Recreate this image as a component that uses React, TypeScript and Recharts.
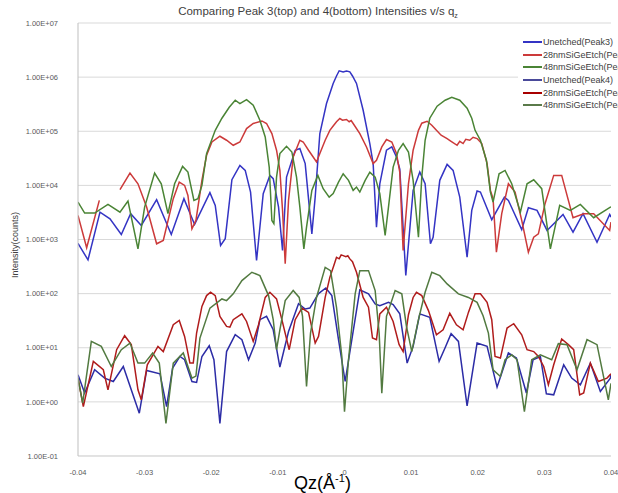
import React from 'react';
import { LineChart, Line, XAxis, YAxis, CartesianGrid } from 'recharts';

type Pt = [number, number | null];

const xTicks = [-0.04, -0.03, -0.02, -0.01, 0, 0.01, 0.02, 0.03, 0.04];
const xTickLabels = ['-0.04', '-0.03', '-0.02', '-0.01', '0', '0.01', '0.02', '0.03', '0.04'];
const yTicks = [0.1, 1, 10, 100, 1000, 10000, 100000, 1000000, 10000000];
const yTickLabels = ['1.00E-01', '1.00E+00', '1.00E+01', '1.00E+02', '1.00E+03', '1.00E+04', '1.00E+05', '1.00E+06', '1.00E+07'];
const seriesNames = [
  'Unetched(Peak3)',
  '28nmSiGeEtch(Peak3)',
  '48nmSiGeEtch(Peak3)',
  'Unetched(Peak4)',
  '28nmSiGeEtch(Peak4)',
  '48nmSiGeEtch(Peak4)',
];

const p3Unetched: Pt[] = [
  [-0.04, 850], [-0.0385, 420], [-0.0367, 3200], [-0.0352, 2400], [-0.0335, 1240], [-0.0321, 3000],
  [-0.0305, 1820], [-0.0282, 5450], [-0.026, 1240], [-0.0241, 5680], [-0.0225, 1900], [-0.0202, 7330],
  [-0.0194, 4270], [-0.0186, 775], [-0.0179, 1035], [-0.0169, 12700], [-0.0157, 23400], [-0.0149, 18900],
  [-0.0141, 7520], [-0.0132, 409], [-0.0122, 7030], [-0.0112, 15300], [-0.0107, 13300], [-0.0099, 3970],
  [-0.0093, 626], [-0.0087, 14200], [-0.0074, 44400], [-0.0067, 47900], [-0.0059, 25300], [-0.0049, 1270],
  [-0.0044, 6080], [-0.0037, 90700], [-0.0027, 325000], [-0.0017, 765000], [-0.0012, 1050000],
  [-0.0008, 1310000], [-0.0002, 1250000], [0.0003, 1290000], [0.0008, 1250000], [0.0012, 1050000],
  [0.0018, 765000], [0.0028, 244000], [0.0038, 59300], [0.0043, 25300], [0.0048, 1690], [0.0053, 10700],
  [0.0063, 44600], [0.0071, 51300], [0.0078, 33500], [0.0083, 20000], [0.0092, 216], [0.0103, 8090],
  [0.0113, 17600], [0.0121, 10700], [0.0129, 833], [0.0133, 1100], [0.0143, 12400], [0.0154, 24400],
  [0.0163, 18900], [0.0173, 6080], [0.0184, 471], [0.0191, 3450], [0.0199, 7850], [0.0204, 7520],
  [0.0221, 2320], [0.024, 6080], [0.0246, 5280], [0.0266, 1520], [0.0276, 3870], [0.0289, 3450],
  [0.0304, 1470], [0.0328, 2910], [0.0343, 1370], [0.0358, 3000], [0.0379, 890], [0.0398, 2910], [0.04, 2600],
];

const p3Etch28: Pt[] = [
  [-0.04, 2790], [-0.0387, 703], [-0.0368, 5280], [-0.0355, null], [-0.0337, 8330], [-0.0322, 16900],
  [-0.031, 10700], [-0.0297, 3970], [-0.0282, 833], [-0.0272, 960], [-0.0257, 5680], [-0.0248, 11500],
  [-0.024, 10000], [-0.0235, 6530], [-0.0229, 1580], [-0.0223, 2250], [-0.0214, 12400], [-0.0207, 36000],
  [-0.0199, 63400], [-0.0187, 80800], [-0.0177, 68200], [-0.0167, 55100], [-0.0157, 63400], [-0.0147, 112000],
  [-0.0137, 139000], [-0.0124, 155000], [-0.0117, 139000], [-0.0109, 90700], [-0.0102, 44600], [-0.0097, 18900],
  [-0.0093, 3450], [-0.0089, 356], [-0.0084, 5280], [-0.0077, 33500], [-0.0067, 68200], [-0.0062, 63400],
  [-0.0054, 44600], [-0.0047, 33500], [-0.0042, 27100], [-0.0037, 38700], [-0.0029, 68200], [-0.0022, 104000],
  [-0.0017, 125000], [-0.0012, 150000], [-0.0007, 172000], [-0.0003, 160000], [0.0003, 165000], [0.0007, 150000],
  [0.001, 158000], [0.0013, 139000], [0.0023, 90700], [0.0033, 51300], [0.0043, 25300], [0.0048, 29100],
  [0.0056, 51300], [0.0063, 70200], [0.0071, 63400], [0.0078, 38700], [0.0083, 17400], [0.0088, 626],
  [0.0096, 10700], [0.0103, 44600], [0.0111, 104000], [0.0116, 141000], [0.0124, 153000], [0.0131, 129000],
  [0.0138, 104000], [0.0145, 84400], [0.0154, 73300], [0.016, 65300], [0.0169, 55100], [0.0173, 65300],
  [0.0178, 59300], [0.0182, 71100], [0.0188, 68200], [0.0193, 77500], [0.0199, 73300], [0.0206, 59300],
  [0.0214, 25300], [0.0219, 8090], [0.0223, 5680], [0.0228, 582], [0.0236, 3000], [0.0246, 10700],
  [0.0256, 7520], [0.0266, 2250], [0.0276, 582], [0.0284, 1100], [0.0291, 1270], [0.0301, 4590],
  [0.0314, 15300], [0.0326, 15300], [0.0343, 2530], [0.0359, 3000], [0.0374, 3000], [0.0398, 1470], [0.04, 2100],
];

const p3Etch48: Pt[] = [
  [-0.04, 4910], [-0.039, 3080], [-0.0375, 3080], [-0.0355, 4460], [-0.0337, 3200], [-0.0325, 5130],
  [-0.031, 673], [-0.03, 3970], [-0.0285, 16900], [-0.0275, 10700], [-0.0265, 3000], [-0.0255, 10700],
  [-0.0243, 22400], [-0.0235, 17600], [-0.0226, 5280], [-0.022, 5680], [-0.0214, 10000], [-0.0207, 38700],
  [-0.0194, 104000], [-0.0184, 174000], [-0.0173, 278000], [-0.0164, 374000], [-0.0157, 325000],
  [-0.0147, 385000], [-0.0137, 303000], [-0.0127, 160000], [-0.0119, 78500], [-0.0113, 21800], [-0.0109, 2250],
  [-0.0106, 1960], [-0.0102, 14200], [-0.0097, 38700], [-0.0087, 52800], [-0.0079, 41400], [-0.0072, 14200],
  [-0.0067, 3970], [-0.0061, 673], [-0.0057, 1690], [-0.0049, 8090], [-0.004, 15300], [-0.0032, 8690],
  [-0.0023, 6080], [-0.0017, 7030], [-0.0009, 11500], [-0.0002, 16400], [0.0006, 12400], [0.0013, 8090],
  [0.0018, 9300], [0.0023, 7520], [0.0031, 12400], [0.0038, 17600], [0.0046, 14200], [0.0053, 7030],
  [0.0061, 1190], [0.0066, 3970], [0.0073, 21800], [0.0081, 44600], [0.0088, 59300], [0.0096, 41400],
  [0.0103, 12400], [0.0111, 1100], [0.0116, 14200], [0.0121, 68200], [0.0128, 174000], [0.0139, 290000],
  [0.0151, 374000], [0.0161, 425000], [0.0173, 374000], [0.0184, 266000], [0.0191, 174000], [0.0196, 104000],
  [0.0204, 68200], [0.0213, 29100], [0.0219, 7520], [0.0223, 4910], [0.0232, 16400], [0.0241, 18900],
  [0.0251, 10700], [0.0264, 3200], [0.0274, 10700], [0.0284, 12700], [0.0296, 8690], [0.0309, 673],
  [0.0323, 4270], [0.0339, 3450], [0.0354, 4460], [0.0374, 2530], [0.0399, 3970], [0.04, 4000],
];

const p4Unetched: Pt[] = [
  [-0.04, 3.17], [-0.039, 1.46], [-0.0375, 3.92], [-0.036, 2.75], [-0.0347, 2.38], [-0.0332, 4.51],
  [-0.0308, 0.618], [-0.0297, 3.8], [-0.0277, 3.3], [-0.0267, 0.82], [-0.0258, 4.22], [-0.0247, 6.9],
  [-0.024, 6.0], [-0.0229, 2.38], [-0.0222, 2.29], [-0.0214, 6.9], [-0.0203, 10.9], [-0.0196, 6.0],
  [-0.0187, 0.4], [-0.0177, 8.5], [-0.0164, 17.4], [-0.0154, 14.1], [-0.0144, 6.0], [-0.0134, 12.2],
  [-0.0127, 33], [-0.0117, 38], [-0.0107, 21.5], [-0.0097, 4.4], [-0.0084, 20], [-0.0069, 65], [-0.0059, 52],
  [-0.0052, 54], [-0.0039, 100], [-0.0028, 127], [-0.0019, 92], [-0.0009, 14.1], [0.0001, 2.38], [0.0011, 14.1],
  [0.0023, 117], [0.0036, 99], [0.0046, 64.5], [0.0053, 60], [0.0066, 69], [0.0073, 62.7], [0.0083, 42.2],
  [0.0094, 5.2], [0.0103, 10.6], [0.0113, 42.2], [0.0128, 36.5], [0.0142, 5.6], [0.0151, 10], [0.016, 18.2],
  [0.0171, 13.1], [0.0184, 0.84], [0.0199, 12.2], [0.0214, 10.6], [0.0229, 1.87], [0.0246, 8.0], [0.0258, 6.45],
  [0.0273, 1.46], [0.0283, 6.0], [0.0294, 6.9], [0.0303, 1.41], [0.0314, 1.35], [0.0329, 4.85], [0.0341, 2.75],
  [0.0354, 2.07], [0.0369, 5.2], [0.0384, 1.56], [0.0399, 2.75], [0.04, 3.17],
];

const p4Etch28: Pt[] = [
  [-0.04, 2.75], [-0.0392, 0.82], [-0.0377, 5.6], [-0.0362, 3.92], [-0.0355, 1.67], [-0.0342, 9.2],
  [-0.033, 16.7], [-0.032, 11.4], [-0.031, 1.67], [-0.0305, 1.09], [-0.0296, 4.85], [-0.028, 10.6],
  [-0.0272, 8.5], [-0.0257, 26.6], [-0.0248, 32], [-0.024, 16.2], [-0.0232, 5.2], [-0.0227, 5.2],
  [-0.0222, 18.7], [-0.0214, 58], [-0.0207, 92], [-0.0201, 106], [-0.0194, 92], [-0.0187, 38], [-0.0177, 24.8],
  [-0.0172, 24], [-0.0167, 33], [-0.0154, 42.2], [-0.0147, 30.6], [-0.0137, 13.1], [-0.0129, 26.6],
  [-0.0119, 85], [-0.0112, 106], [-0.0102, 79.8], [-0.0094, 33], [-0.0083, 9.2], [-0.0074, 33], [-0.0064, 54],
  [-0.0054, 45], [-0.0044, 12.2], [-0.0039, 16.2], [-0.0029, 85], [-0.0022, 200], [-0.0016, 330],
  [-0.0012, 469], [-0.0008, 440], [-0.0005, 520], [-0.0002, 504], [0.0002, 480], [0.0005, 500], [0.0008, 438],
  [0.0012, 390], [0.0018, 248], [0.0028, 85], [0.0036, 56], [0.0042, 15.1], [0.0048, 14.1], [0.0053, 42.2],
  [0.0063, 56], [0.0073, 30.6], [0.0082, 11.4], [0.0088, 8.5], [0.0096, 40.7], [0.0103, 85], [0.0108, 106],
  [0.0116, 92], [0.0126, 48.5], [0.0138, 17.4], [0.0148, 21.5], [0.0158, 43.3], [0.0168, 26.6], [0.0178, 21.5],
  [0.0186, 45], [0.0196, 99], [0.0204, 99], [0.0214, 69], [0.0221, 33], [0.0226, 6.9], [0.0234, 6.45],
  [0.0244, 23.1], [0.0254, 27.8], [0.0266, 17.4], [0.0274, 9.2], [0.0284, 8.5], [0.0291, 6.9], [0.0299, 4.5],
  [0.0306, 2.07], [0.0314, 4.85], [0.0326, 14.5], [0.0336, 11.4], [0.0344, 9.2], [0.0353, 1.35], [0.0359, 1.46],
  [0.0369, 5.2], [0.0381, 2.38], [0.0394, 2.75], [0.04, 3.3],
];

const p4Etch48: Pt[] = [
  [-0.04, 2.75], [-0.0393, 0.95], [-0.038, 13.1], [-0.0365, 10.6], [-0.035, 4.51], [-0.0335, 9.2],
  [-0.0322, 12.2], [-0.031, 5.2], [-0.03, 5.2], [-0.0288, 8.0], [-0.0278, 5.2], [-0.0268, 0.4], [-0.0257, 5.2],
  [-0.0242, 8.0], [-0.0229, 2.75], [-0.0223, 3.0], [-0.0217, 15.1], [-0.0202, 54], [-0.0184, 79.8],
  [-0.0177, 74.2], [-0.0167, 99], [-0.0154, 174], [-0.0139, 248], [-0.0127, 215], [-0.0114, 92], [-0.0107, 33],
  [-0.0102, 9.2], [-0.0097, 21.5], [-0.0089, 74.2], [-0.0077, 114], [-0.0068, 85], [-0.0063, 38],
  [-0.0057, 1.92], [-0.0051, 18.7], [-0.0042, 85], [-0.0029, 306], [-0.0021, 266], [-0.0012, 56],
  [-0.0004, 6.9], [0.0, 0.66], [0.0006, 6.0], [0.0016, 99], [0.0023, 266], [0.0036, 266], [0.0046, 114],
  [0.0052, 18.7], [0.0056, 1.45], [0.0063, 38], [0.0076, 114], [0.0086, 99], [0.0093, 24.8], [0.0101, 8.5],
  [0.0111, 33], [0.0121, 106], [0.0131, 248], [0.0143, 215], [0.0154, 151], [0.0171, 99], [0.0186, 85],
  [0.0199, 69], [0.0208, 39], [0.0216, 18.7], [0.0223, 3.92], [0.0234, 2.95], [0.0241, 6.0], [0.0251, 7.4],
  [0.0259, 6.0], [0.027, 0.66], [0.0281, 6.0], [0.0294, 7.4], [0.0311, 6.0], [0.0321, 11.9], [0.0334, 11.4],
  [0.0349, 3.92], [0.0364, 14.1], [0.0379, 11.4], [0.0396, 1.09], [0.04, 2.2],
];

const toRows = (pts: Pt[]) => pts.map(([x, y]) => ({ x, y }));

const seriesColors = ['#3434c4', '#cc3a3a', '#4a8435', '#2c2ca6', '#b01c1c', '#527a40'];
const legendColors = ['#3434c4', '#cc3a3a', '#4a8435', '#4a4a9a', '#a80000', '#5a7a4a'];
const seriesPts = [p3Unetched, p3Etch28, p3Etch48, p4Unetched, p4Etch28, p4Etch48];

const FONT = 'Liberation Sans, Arial, sans-serif';

export default function App() {
  const fmtX = (v: number) => {
    const i = xTicks.findIndex((t) => Math.abs(t - v) < 1e-9);
    return i >= 0 ? xTickLabels[i] : String(v);
  };
  const fmtY = (v: number) => {
    const i = yTicks.findIndex((t) => Math.abs(t - v) / t < 1e-6);
    return i >= 0 ? yTickLabels[i] : String(v);
  };
  return (
    <div style={{ position: 'absolute', left: 0, top: 0, width: 618, height: 493, overflow: 'hidden', background: '#fff' }}>
      <LineChart width={618} height={493} margin={{ top: 23, right: 7, bottom: 0, left: 8 }}>
        <CartesianGrid vertical={false} stroke="#d9d9d9" />
        <XAxis
          type="number"
          dataKey="x"
          domain={[-0.04, 0.04]}
          ticks={xTicks}
          tickFormatter={fmtX}
          allowDataOverflow
          height={37}
          axisLine={{ stroke: '#d9d9d9' }}
          tickLine={false}
          tickMargin={8}
          tick={{ fontSize: 7.5, fill: '#595959', fontFamily: FONT }}
        />
        <YAxis
          type="number"
          scale="log"
          domain={[0.1, 10000000]}
          ticks={yTicks}
          tickFormatter={fmtY}
          allowDataOverflow
          width={70}
          axisLine={{ stroke: '#bfbfbf' }}
          tickLine={false}
          tickMargin={14}
          tick={{ fontSize: 7.5, fill: '#595959', fontFamily: FONT }}
        />
        {seriesNames.map((name, i) => (
          <Line
            key={name}
            name={name}
            data={toRows(seriesPts[i])}
            dataKey="y"
            stroke={seriesColors[i]}
            strokeWidth={1.5}
            dot={false}
            activeDot={false}
            connectNulls={false}
            isAnimationActive={false}
            type="linear"
          />
        ))}
      </LineChart>
      <div style={{ position: 'absolute', left: 518, top: 33, width: 100, background: '#fff', padding: '3px 0 4px 5px', fontFamily: FONT, overflow: 'hidden' }}>
        {seriesNames.map((name, i) => (
          <div key={name} style={{ display: 'flex', alignItems: 'center', height: 12.6, whiteSpace: 'nowrap' }}>
            <div style={{ width: 19, height: 2, flex: 'none', background: legendColors[i], marginRight: 1 }} />
            <span style={{ fontSize: 9, color: '#404040' }}>{name}</span>
          </div>
        ))}
      </div>
      <div style={{ position: 'absolute', left: 0, width: 636, top: 5, textAlign: 'center', fontFamily: FONT, fontSize: 11.5, color: '#404040' }}>
        Comparing Peak 3(top) and 4(bottom) Intensities v/s q<sub style={{ fontSize: 7 }}>z</sub>
      </div>
      <div style={{ position: 'absolute', left: 0, width: 645, top: 472, textAlign: 'center', fontFamily: FONT, fontSize: 18, color: '#000' }}>
        Qz(Å<sup style={{ fontSize: 11 }}>-1</sup>)
      </div>
      <div style={{ position: 'absolute', left: 15, top: 245, transform: 'translate(-50%, -50%) rotate(-90deg)', whiteSpace: 'nowrap', fontFamily: FONT, fontSize: 9, color: '#404040' }}>
        Intensity(counts)
      </div>
    </div>
  );
}
